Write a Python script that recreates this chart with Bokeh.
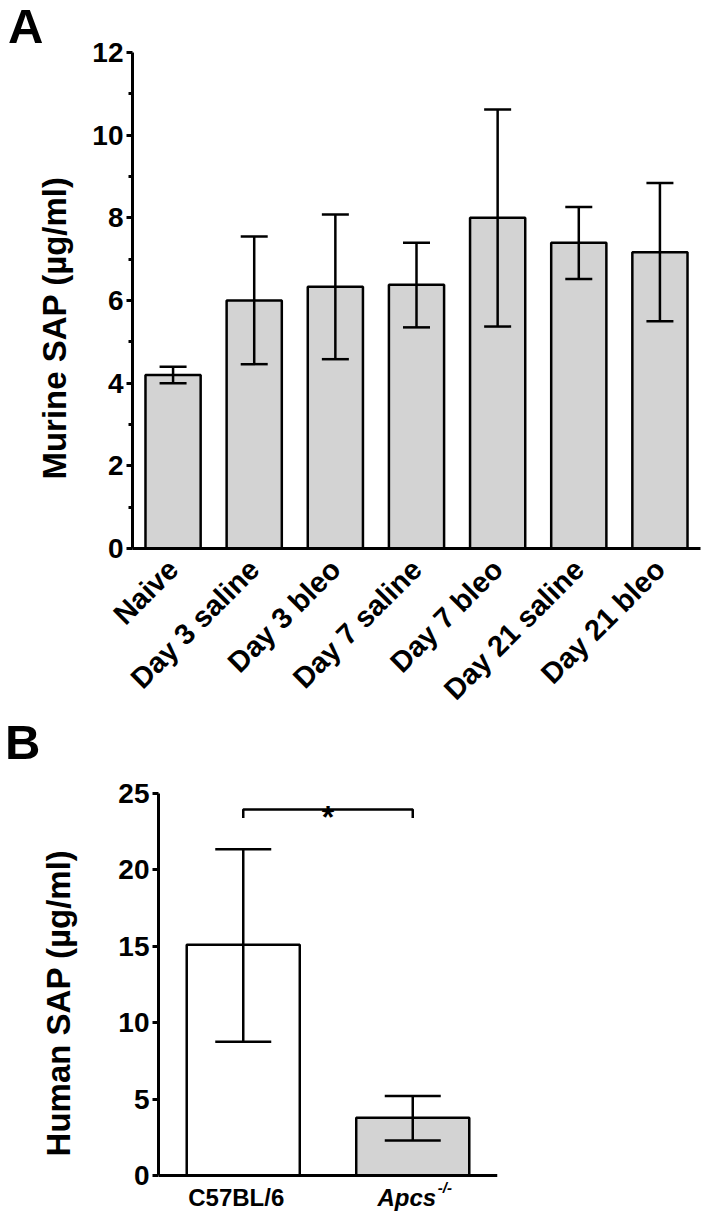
from math import pi
from bokeh.plotting import figure
from bokeh.models import (ColumnDataSource, Whisker, TeeHead, FixedTicker, Range1d, FactorRange,
                          Span, Div, InlineStyleSheet)
from bokeh.core.properties import value
from bokeh.layouts import row
from bokeh.embed import file_html
from bokeh.resources import INLINE

# ---- data ----
cats_a = ["Naive", "Day 3 saline", "Day 3 bleo", "Day 7 saline", "Day 7 bleo", "Day 21 saline", "Day 21 bleo"]
mean_a = [4.2, 6.0, 6.33, 6.38, 8.0, 7.4, 7.17]
lower_a = [4.0, 4.46, 4.58, 5.35, 5.37, 6.52, 5.5]
upper_a = [4.4, 7.55, 8.08, 7.4, 10.62, 8.26, 8.84]
yticks_a = [0, 2, 4, 6, 8, 10, 12]
yminor_a = [1, 3, 5, 7, 9, 11]

cats_b = ["C57BL/6", "Apcs"]
mean_b = [15.1, 3.78]
lower_b = [8.75, 2.3]
upper_b = [21.35, 5.2]
fill_b = ["white", "#d3d3d3"]
yticks_b = [0, 5, 10, 15, 20, 25]
bracket_y = 23.95
bracket_tip = 23.4
star_y = 23.45

FONT = "Liberation Sans"
GRAY = "#d3d3d3"
LW = 2.5
NB = "\u00a0"

css = InlineStyleSheet(css=":host { overflow: visible !important; } div { overflow: visible !important; }")


def letter(txt, top_px, left_px):
    return Div(text=('<div style="font-family:\'Liberation Sans\',Arial,sans-serif; font-weight:bold; '
                     'font-size:49px; line-height:49px; color:black; position:relative; '
                     'top:%dpx; left:%dpx; white-space:nowrap;">%s</div>') % (top_px, left_px, txt),
               width=33, height=80, margin=(0, 0, 0, 0), stylesheets=[css])


def style_axes(p):
    p.outline_line_color = None
    p.border_fill_color = None
    p.xgrid.grid_line_color = None
    p.ygrid.grid_line_color = None
    for ax in p.xaxis + p.yaxis:
        ax.axis_line_width = 3
        ax.axis_line_color = "black"
        ax.major_tick_line_width = 3
        ax.minor_tick_line_width = 3
        ax.major_tick_in = 0
        ax.minor_tick_in = 0
        ax.major_label_text_font = FONT
        ax.major_label_text_font_style = "bold"
        ax.major_label_text_color = "black"
        ax.axis_label_text_font = FONT
        ax.axis_label_text_font_style = "bold"
        ax.axis_label_text_color = "black"


def whisker(src, head):
    return Whisker(source=src, base="x", lower="lower", upper="upper", level="annotation",
                   line_width=LW, line_color="black",
                   upper_head=TeeHead(size=head, line_width=LW, line_color="black"),
                   lower_head=TeeHead(size=head, line_width=LW, line_color="black"))


# ---- Panel A ----
pa = figure(x_range=FactorRange(*cats_a), y_range=Range1d(0, 12), width=674, height=720,
            output_backend="svg", toolbar_location=None,
            min_border_left=92, min_border_right=7, min_border_top=52, min_border_bottom=170)
style_axes(pa)
pa.xaxis.major_tick_line_color = None
pa.xaxis.minor_tick_line_color = None
src_a = ColumnDataSource(dict(x=cats_a, top=mean_a, lower=lower_a, upper=upper_a))
pa.vbar(x="x", top="top", width=0.68, bottom=0, source=src_a,
        fill_color=GRAY, line_color="black", line_width=LW)
pa.add_layout(whisker(src_a, 27))
pa.yaxis.ticker = FixedTicker(ticks=yticks_a, minor_ticks=yminor_a)
pa.yaxis.major_tick_out = 6
pa.yaxis.minor_tick_out = 4
pa.yaxis.major_label_text_font_size = "28px"
pa.yaxis.major_label_standoff = 3
pa.yaxis.axis_label = "Murine SAP (µg/ml)" + NB * 6
pa.yaxis.axis_label_text_font_size = "33px"
pa.yaxis.axis_label_standoff = 16
pa.xaxis.major_label_orientation = pi / 4
pa.xaxis.major_label_text_font_size = "29px"
pa.xaxis.major_label_standoff = 10

# ---- Panel B ----
pb = figure(x_range=FactorRange(*cats_b), y_range=Range1d(-2.415, 25), width=674, height=492,
            output_backend="svg", toolbar_location=None, x_axis_location=None,
            min_border_left=125, min_border_right=210, min_border_top=73, min_border_bottom=0)
style_axes(pb)
src_b = ColumnDataSource(dict(x=cats_b, top=mean_b, lower=lower_b, upper=upper_b, fill=fill_b))
pb.vbar(x="x", top="top", width=0.667, bottom=0, source=src_b,
        fill_color="fill", line_color="black", line_width=LW)
pb.add_layout(whisker(src_b, 56))
pb.add_layout(Span(location=0, dimension="width", line_color="black", line_width=3))
pb.yaxis.ticker = FixedTicker(ticks=yticks_b, minor_ticks=[])
pb.yaxis.bounds = (0, 25)
pb.yaxis.minor_tick_line_color = None
pb.yaxis.major_tick_out = 6
pb.yaxis.major_label_text_font_size = "28px"
pb.yaxis.major_label_standoff = 3
pb.yaxis.axis_label = "Human SAP (µg/ml)"
pb.yaxis.axis_label_text_font_size = "33px"
pb.yaxis.axis_label_standoff = 38
# category labels (drawn as text so that the genotype can be italic with a superscript)
pb.text(x=[cats_b[0]], y=[0], text=[cats_b[0]], text_font=value(FONT), text_font_style="bold",
        text_font_size="24px", text_align="center", text_baseline="alphabetic",
        text_color="black", x_offset=-7, y_offset=22)
pb.text(x=[cats_b[1]], y=[0], text=[cats_b[1]], text_font=value(FONT), text_font_style="bold italic",
        text_font_size="24px", text_align="center", text_baseline="alphabetic",
        text_color="black", x_offset=-6, y_offset=22)
pb.text(x=[cats_b[1]], y=[0], text=["-/-"], text_font=value(FONT), text_font_style="bold italic",
        text_font_size="15px", text_align="left", text_baseline="alphabetic",
        text_color="black", x_offset=25, y_offset=12)
# significance bracket
pb.line(x=[cats_b[0], cats_b[0], cats_b[1], cats_b[1]],
        y=[bracket_tip, bracket_y, bracket_y, bracket_tip],
        line_color="black", line_width=LW)
pb.text(x=[len(cats_b) / 2], y=[star_y], text=["*"], text_font=value(FONT), text_font_style="bold",
        text_font_size="32px", text_align="center", text_baseline="alphabetic", text_color="black")

rowA = row(letter("A", 2, 8), pa)
rowB = row(letter("B", -2, 5), pb)
open("out.html", "w").write(file_html([rowA, rowB], INLINE))
